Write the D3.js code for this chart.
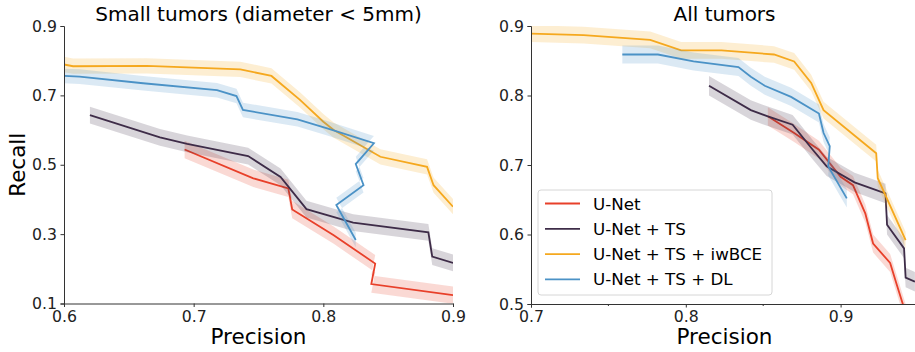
<!DOCTYPE html>
<html>
<head>
<meta charset="utf-8">
<script src="https://cdn.jsdelivr.net/npm/d3@7"></script>
<style>
body { margin: 0; background: #fff; }
svg { display: block; font-family: "DejaVu Sans", sans-serif; }
</style>
</head>
<body>
<div id="graph"></div>
<script>
var SVGwidth = 915,
	SVGheight = 352;

// series names + colours (legend order)
var seriesNames = ["U-Net", "U-Net + TS", "U-Net + TS + iwBCE", "U-Net + TS + DL"];
var seriesColors = ["#e8402a", "#3e2c48", "#f5a81e", "#4b92c6"];

// small tumors panel: [precision, recall]
var smallUnet = [[0.693, 0.544], [0.746, 0.461], [0.773, 0.432], [0.776, 0.371], [0.808, 0.297], [0.840, 0.215], [0.837, 0.156], [0.900, 0.124]];
var smallTS = [[0.620, 0.643], [0.674, 0.579], [0.695, 0.560], [0.742, 0.525], [0.767, 0.465], [0.787, 0.372], [0.823, 0.333], [0.881, 0.305], [0.884, 0.235], [0.900, 0.217]];
var smallIw = [[0.600, 0.789], [0.607, 0.784], [0.664, 0.785], [0.736, 0.775], [0.760, 0.756], [0.782, 0.687], [0.800, 0.624], [0.808, 0.600], [0.844, 0.523], [0.880, 0.494], [0.885, 0.441], [0.900, 0.379]];
var smallDL = [[0.600, 0.756], [0.612, 0.754], [0.661, 0.735], [0.718, 0.715], [0.733, 0.698], [0.738, 0.658], [0.780, 0.631], [0.803, 0.605], [0.839, 0.562], [0.825, 0.502], [0.831, 0.441], [0.810, 0.384], [0.825, 0.283]];
var smallBand = [0.025, 0.024, 0.022, 0.021];

// all tumors panel
var allUnet = [[0.853, 0.770], [0.870, 0.746], [0.886, 0.722], [0.900, 0.683], [0.908, 0.671], [0.916, 0.630], [0.921, 0.587], [0.932, 0.559], [0.936, 0.530], [0.942, 0.487]];
var allTS = [[0.815, 0.814], [0.842, 0.779], [0.853, 0.770], [0.869, 0.758], [0.882, 0.722], [0.891, 0.698], [0.909, 0.675], [0.929, 0.659], [0.930, 0.614], [0.941, 0.580], [0.942, 0.538], [0.948, 0.532]];
var allIw = [[0.700, 0.889], [0.734, 0.887], [0.777, 0.880], [0.797, 0.865], [0.823, 0.865], [0.857, 0.859], [0.870, 0.849], [0.881, 0.818], [0.889, 0.779], [0.923, 0.717], [0.924, 0.681], [0.942, 0.592]];
var allDL = [[0.759, 0.859], [0.782, 0.859], [0.805, 0.849], [0.834, 0.841], [0.842, 0.827], [0.851, 0.814], [0.868, 0.798], [0.886, 0.774], [0.889, 0.746], [0.893, 0.727], [0.892, 0.698], [0.904, 0.652]];
var allBand = [0.013, 0.014, 0.012, 0.013];

var smallXTicks = [0.6, 0.7, 0.8, 0.9],
	smallYTicks = [0.1, 0.3, 0.5, 0.7, 0.9],
	allXTicks = [0.7, 0.8, 0.9],
	allXMinor = [0.75, 0.85],
	allYTicks = [0.5, 0.6, 0.7, 0.8, 0.9];

var svg = d3.select('div#graph')
	.append('svg')
	.attr('width', SVGwidth)
	.attr('height', SVGheight);

var panels = [
	{ id: "small", title: "Small tumors (diameter < 5mm)", left: 64, right: 453, top: 26, bottom: 303.5,
	  xdom: [0.6, 0.9], ydom: [0.1, 0.9], xticks: smallXTicks, xminor: [], yticks: smallYTicks,
	  data: [smallUnet, smallTS, smallIw, smallDL], band: smallBand, ylabel: true },
	{ id: "all", title: "All tumors", left: 531, right: 918, top: 26, bottom: 304,
	  xdom: [0.7, 0.95], ydom: [0.5, 0.9], xticks: allXTicks, xminor: allXMinor, yticks: allYTicks,
	  data: [allUnet, allTS, allIw, allDL], band: allBand, legend: true }
];

panels.forEach(function (p) {
	var x = d3.scaleLinear().domain(p.xdom).range([p.left, p.right]),
		y = d3.scaleLinear().domain(p.ydom).range([p.bottom, p.top]);

	svg.append("clipPath")
		.attr("id", "clip-" + p.id)
		.append("rect")
		.attr("x", p.left)
		.attr("y", p.top)
		.attr("width", p.right - p.left)
		.attr("height", p.bottom - p.top);

	var g = svg.append("g").attr("clip-path", "url(#clip-" + p.id + ")");

	p.data.forEach(function (pts, i) {
		var hw = p.band[i];
		var area = d3.area()
			.x(function (d) { return x(d[0]); })
			.y0(function (d) { return y(d[1] - hw); })
			.y1(function (d) { return y(d[1] + hw); });
		g.append("path")
			.attr("d", area(pts))
			.attr("fill", seriesColors[i])
			.attr("fill-opacity", 0.2);
		g.append("path")
			.attr("d", d3.line().x(function (d) { return x(d[0]); }).y(function (d) { return y(d[1]); })(pts))
			.attr("fill", "none")
			.attr("stroke", seriesColors[i])
			.attr("stroke-width", 1.8);
	});

	// axes
	var xAxis = svg.append("g")
		.attr("transform", "translate(0," + p.bottom + ")")
		.call(d3.axisBottom(x).tickValues(p.xticks).tickSize(3.5).tickPadding(3.5).tickFormat(d3.format(".1f")));
	xAxis.append("g")
		.selectAll("line")
		.data(p.xminor)
		.enter()
		.append("line")
		.attr("x1", function (d) { return x(d); })
		.attr("x2", function (d) { return x(d); })
		.attr("y2", 2)
		.attr("stroke", "#333");
	var yAxis = svg.append("g")
		.attr("transform", "translate(" + p.left + ",0)")
		.call(d3.axisLeft(y).tickValues(p.yticks).tickSize(3.5).tickPadding(3.5).tickFormat(d3.format(".1f")));

	[xAxis, yAxis].forEach(function (a) {
		a.select(".domain").attr("stroke", "#333").attr("stroke-width", 1);
		a.selectAll(".tick line").attr("stroke", "#333");
		a.selectAll("text")
			.attr("fill", "#222")
			.style("font-family", "DejaVu Sans")
			.style("font-size", "15.7px");
	});

	svg.append("text")
		.attr("x", (p.left + p.right) / 2)
		.attr("y", 21)
		.attr("text-anchor", "middle")
		.style("font-size", "20px")
		.text(p.title);

	svg.append("text")
		.attr("x", (p.left + p.right) / 2)
		.attr("y", 344)
		.attr("text-anchor", "middle")
		.style("font-size", "21.5px")
		.text("Precision");

	if (p.ylabel) {
		svg.append("text")
			.attr("transform", "translate(25," + (p.top + p.bottom) / 2 + ") rotate(-90)")
			.attr("text-anchor", "middle")
			.style("font-size", "21.5px")
			.text("Recall");
	}

	if (p.legend) {
		var lg = svg.append("g").attr("transform", "translate(538,190)");
		lg.append("rect")
			.attr("width", 234)
			.attr("height", 105)
			.attr("rx", 3)
			.attr("fill", "#fff")
			.attr("fill-opacity", 0.8)
			.attr("stroke", "#d6d6d6");
		seriesNames.forEach(function (name, i) {
			var row = lg.append("g").attr("transform", "translate(0," + (13.5 + i * 25.3) + ")");
			row.append("line")
				.attr("x1", 7).attr("x2", 42)
				.attr("stroke", seriesColors[i])
				.attr("stroke-width", 1.8);
			row.append("text")
				.attr("x", 55)
				.attr("dy", "0.36em")
				.style("font-size", "16.7px")
				.text(name);
		});
	}
});
</script>
</body>
</html>
